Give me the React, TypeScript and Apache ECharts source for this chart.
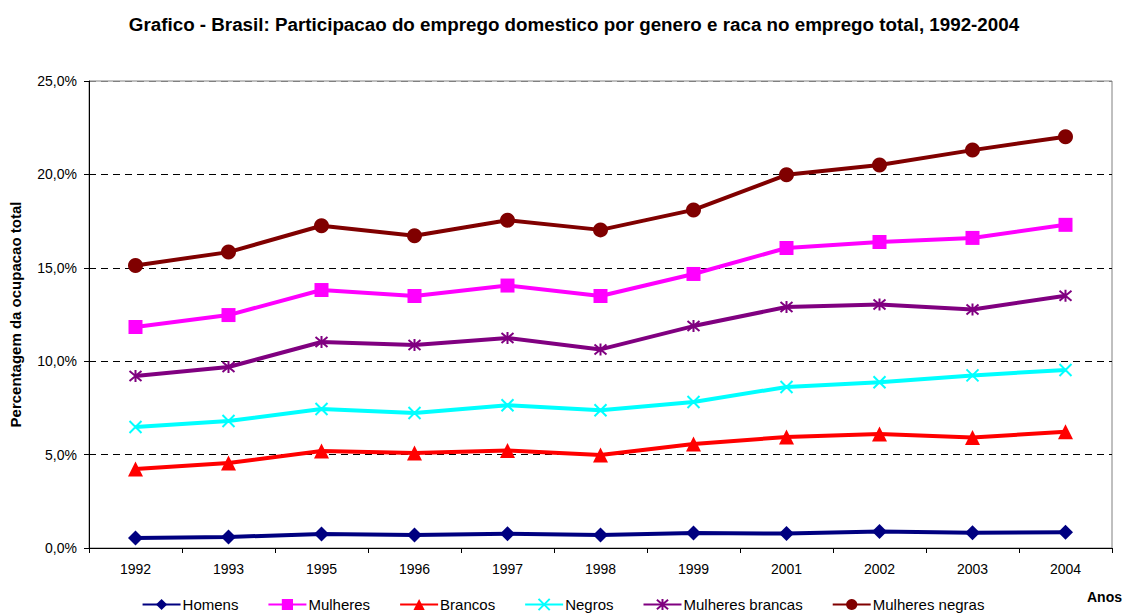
import React, { useEffect, useRef } from "react";
import * as echarts from "echarts";

const years = ["1992", "1993", "1995", "1996", "1997", "1998", "1999", "2001", "2002", "2003", "2004"];
const homens = [0.54, 0.59, 0.75, 0.7, 0.76, 0.7, 0.8, 0.77, 0.88, 0.82, 0.84];
const mulheres = [11.83, 12.47, 13.81, 13.49, 14.05, 13.49, 14.67, 16.06, 16.38, 16.6, 17.3];
const brancos = [4.23, 4.55, 5.19, 5.09, 5.22, 4.98, 5.57, 5.94, 6.1, 5.92, 6.22];
const negros = [6.48, 6.8, 7.44, 7.23, 7.64, 7.37, 7.82, 8.62, 8.87, 9.24, 9.53];
const mulheresBrancas = [9.21, 9.69, 11.03, 10.87, 11.24, 10.63, 11.88, 12.9, 13.03, 12.77, 13.5];
const mulheresNegras = [15.12, 15.84, 17.25, 16.72, 17.55, 17.03, 18.1, 19.98, 20.5, 21.3, 22.02];
const yTicks = [0, 5, 10, 15, 20, 25];

const CROSS = "path://M0,0L10,10M10,0L0,10";
const ASTER = "path://M0,0L10,10M10,0L0,10M5,-1L5,11";
const FONT = "Liberation Sans, Arial, sans-serif";

export default function App() {
  const ref = useRef<HTMLDivElement>(null);
  useEffect(() => {
    const chart = echarts.init(ref.current!, null, { renderer: "svg" });
    const mk = (name: string, data: number[], color: string, symbol: string, size: number, stroke = false) => ({
      name,
      type: "line",
      data,
      symbol,
      symbolSize: size,
      showAllSymbol: true,
      lineStyle: { color, width: 4 },
      itemStyle: stroke
        ? { color: "transparent", borderColor: color, borderWidth: 2 }
        : { color, borderWidth: 0 },
      emphasis: { disabled: true },
    });
    chart.setOption({
      animation: false,
      backgroundColor: "#fff",
      textStyle: { fontFamily: FONT },
      title: {
        text: "Grafico - Brasil: Participacao do emprego domestico por genero e raca no emprego total, 1992-2004",
        left: 569,
        textAlign: "center",
        top: 10,
        textStyle: { fontSize: 18.8, fontWeight: "bold", color: "#000", fontFamily: FONT },
      },
      grid: {
        left: 88,
        right: 14,
        top: 81,
        bottom: 68,
        show: true,
        borderColor: "#808080",
        borderWidth: 1,
        backgroundColor: "#fff",
      },
      legend: {
        top: 597,
        left: "center",
        padding: 0,
        itemWidth: 38,
        itemHeight: 14,
        itemGap: 29,
        textStyle: { fontSize: 15, color: "#000", padding: [0, 0, 0, -3], fontFamily: FONT },
        data: ["Homens", "Mulheres", "Brancos", "Negros", "Mulheres brancas", "Mulheres negras"],
      },
      xAxis: {
        type: "category",
        data: years,
        boundaryGap: true,
        axisLine: { lineStyle: { color: "#000", width: 1 } },
        axisTick: { show: true, length: 5, lineStyle: { color: "#000" } },
        axisLabel: { fontSize: 14, color: "#000", margin: 14 },
      },
      yAxis: {
        type: "value",
        min: yTicks[0],
        max: yTicks[yTicks.length - 1],
        interval: 5,
        name: "Percentagem da ocupacao total",
        nameLocation: "middle",
        nameGap: 66,
        nameTextStyle: { fontSize: 15, fontWeight: "bold", color: "#000", fontFamily: FONT },
        axisLine: { show: true, lineStyle: { color: "#000", width: 1 } },
        axisTick: { show: true, length: 5, lineStyle: { color: "#000" } },
        axisLabel: {
          fontSize: 14,
          color: "#000",
          margin: 12,
          formatter: (v: number) => v.toFixed(1).replace(".", ",") + "%",
        },
        splitLine: {
          show: true,
          lineStyle: {
            color: ["#000", "#000", "#000", "#000", "#000", "#808080"],
            type: [7, 5],
            width: 1,
          },
        },
      },
      graphic: [
        {
          type: "text",
          right: 4,
          top: 590,
          style: { text: "Anos", fontSize: 14, fontWeight: "bold", fill: "#000", fontFamily: FONT },
        },
      ],
      series: [
        mk("Homens", homens, "#000080", "diamond", 15),
        mk("Mulheres", mulheres, "#FF00FF", "rect", 14),
        mk("Brancos", brancos, "#FF0000", "triangle", 15),
        mk("Negros", negros, "#00FFFF", CROSS, 12, true),
        mk("Mulheres brancas", mulheresBrancas, "#800080", ASTER, 12, true),
        mk("Mulheres negras", mulheresNegras, "#800000", "circle", 15),
      ],
    });
    return () => chart.dispose();
  }, []);
  return <div ref={ref} style={{ width: 1126, height: 616, position: "absolute", left: 0, top: 0 }} />;
}
